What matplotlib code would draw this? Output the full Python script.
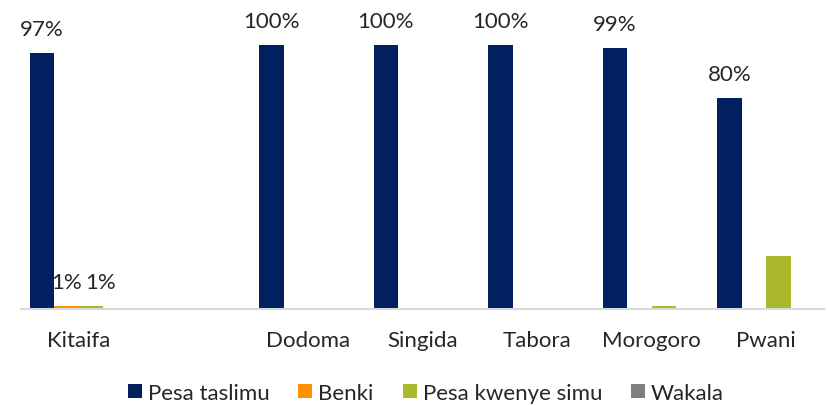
import numpy as np
import matplotlib.pyplot as plt

# mikoa (second slot left empty on purpose as a spacer)
regions = ["Kitaifa", "", "Dodoma", "Singida", "Tabora", "Morogoro", "Pwani"]
series = ["Pesa taslimu", "Benki", "Pesa kwenye simu", "Wakala"]

pesa_taslimu = [97, 0, 100, 100, 100, 99, 80]
benki = [1, 0, 0, 0, 0, 0, 0]
pesa_simu = [1, 0, 0, 0, 0, 1, 20]
wakala = [0, 0, 0, 0, 0, 0, 0]

# data labels shown on the chart ("" = no label)
lbl_taslimu = ["97%", "", "100%", "100%", "100%", "99%", "80%"]
lbl_benki = ["1%", "", "", "", "", "", ""]
lbl_simu = ["1%", "", "", "", "", "", ""]
lbl_wakala = ["", "", "", "", "", "", ""]

colors = ["#002060", "#FF9000", "#A9B92B", "#808080"]

plt.rcParams['font.family'] = ['Lato', 'DejaVu Sans']
txt = "#262626"
fs = 16

fig = plt.figure(figsize=(8.27, 4.06), dpi=100)
W, H = 827, 406
ax = fig.add_axes([21.5 / W, (H - 310) / H, 802 / W, 300 / H])

x = np.arange(len(regions))
bw = 0.213
vals = [pesa_taslimu, benki, pesa_simu, wakala]
lbls = [lbl_taslimu, lbl_benki, lbl_simu, lbl_wakala]
for i in range(4):
    pos = x + (i - 1.5) * bw
    ax.bar(pos, vals[i], width=bw, color=colors[i], label=series[i], zorder=2)
    for j in range(len(regions)):
        if lbls[i][j]:
            dx = 7 if i == 2 else 0  # nudge so the two small labels don't overlap
            ax.annotate(lbls[i][j], (pos[j], vals[i][j]), xytext=(dx, 13),
                        textcoords="offset points", ha="center", va="baseline",
                        fontsize=fs, color=txt)

ax.set_xlim(-0.5, len(regions) - 0.5)
ax.set_ylim(0, 300 / 264 * 100)
ax.set_xticks(x)
ax.set_xticklabels(regions, fontsize=fs, color=txt)
ax.tick_params(axis="x", length=0, pad=15)
ax.set_yticks([])
for s in ["top", "right", "left"]:
    ax.spines[s].set_visible(False)
ax.spines["bottom"].set_color("#D9D9D9")
ax.spines["bottom"].set_linewidth(1.5)
ax.spines["bottom"].set_zorder(3)

fig.legend(loc="center", bbox_to_anchor=(426 / W, 1 - 394 / H), ncol=4, frameon=False,
           fontsize=fs, handlelength=0.63, handleheight=0.63, handletextpad=0.27,
           columnspacing=1.3, labelcolor=txt)

fig.savefig("out.png", dpi=100)
